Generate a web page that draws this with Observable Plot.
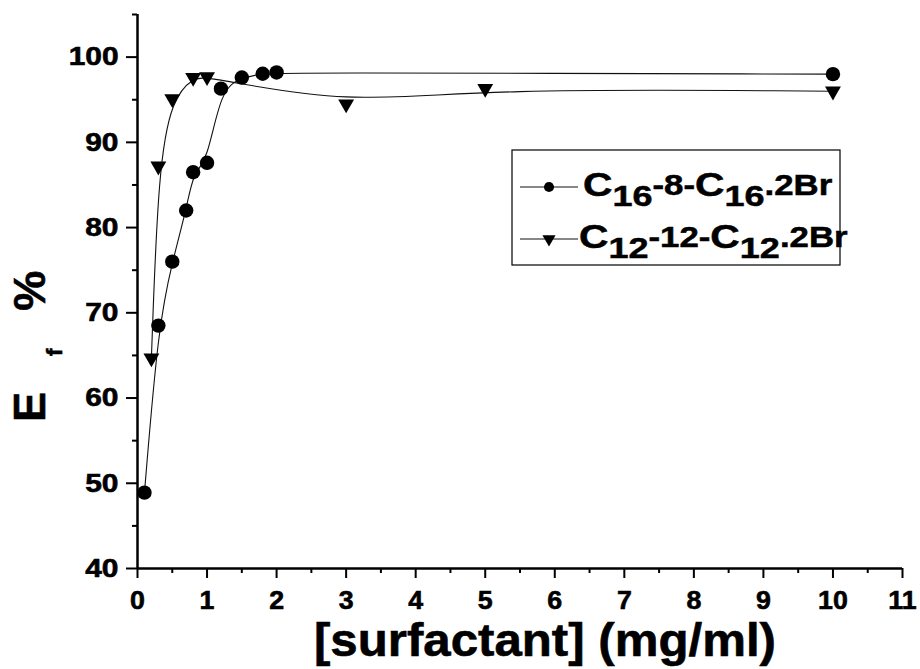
<!DOCTYPE html>
<html>
<head>
<meta charset="utf-8">
<script src="https://cdn.jsdelivr.net/npm/d3@7"></script>
<script src="https://cdn.jsdelivr.net/npm/@observablehq/plot@0.6"></script>
<style>
  body { margin: 0; background: #fff; }
  #chart svg { display: block; }
</style>
</head>
<body>
<div id="chart"></div>
<script>
// ---- data ----
const seriesNames = ["C16-8-C16.2Br", "C12-12-C12.2Br"];
const c16X = [0.1, 0.3, 0.5, 0.7, 0.8, 1.0, 1.2, 1.5, 1.8, 2.0, 10];
const c16Y = [48.9, 68.5, 76.0, 82.0, 86.5, 87.6, 96.3, 97.6, 98.05, 98.2, 98.0];
const c12X = [0.2, 0.3, 0.5, 0.8, 1.0, 3, 5, 10];
const c12Y = [64.7, 87.2, 95.1, 97.6, 97.7, 94.5, 96.3, 96.0];
const xTicks = [0, 1, 2, 3, 4, 5, 6, 7, 8, 9, 10, 11];
const xMinorTicks = [0.5, 1.5, 2.5, 3.5, 4.5, 5.5, 6.5, 7.5, 8.5, 9.5, 10.5];
const yTicks = [40, 50, 60, 70, 80, 90, 100];
const yMinorTicks = [45, 55, 65, 75, 85, 95, 105];
const xTitle = "[surfactant] (mg/ml)";

const c16 = c16X.map((x, i) => ({x, y: c16Y[i]}));
const c12 = c12X.map((x, i) => ({x, y: c12Y[i]}));

const FONT = "'Liberation Sans', Arial, Helvetica, sans-serif";

const chart = Plot.plot({
  width: 920,
  height: 669,
  marginLeft: 137,
  marginRight: 18,
  marginTop: 14,
  marginBottom: 101,
  style: {fontFamily: FONT, fontSize: "26px", fontWeight: "bold", color: "#000", background: "#fff"},
  x: {domain: [0, 11], label: null},
  y: {domain: [40, 105], label: null},
  marks: [
    Plot.axisX(xMinorTicks, {tickSize: 5, strokeWidth: 2, fill: "none", label: null}),
    Plot.axisX(xTicks, {tickSize: 10, tickPadding: 12, strokeWidth: 2, label: null, tickFormat: d => String(d)}),
    Plot.axisY(yMinorTicks, {tickSize: 5, strokeWidth: 2, fill: "none", label: null}),
    Plot.axisY(yTicks, {tickSize: 11, tickPadding: 8, strokeWidth: 2, label: null, tickFormat: d => String(d)}),
    Plot.ruleX([0], {stroke: "#000", strokeWidth: 2.5}),
    Plot.ruleY([40], {stroke: "#000", strokeWidth: 2.5}),
    Plot.line(c16, {x: "x", y: "y", curve: "basis", stroke: "#111", strokeWidth: 1.1}),
    Plot.line(c12, {x: "x", y: "y", curve: "basis", stroke: "#111", strokeWidth: 1.1}),
    Plot.dot(c16, {x: "x", y: "y", symbol: "circle", r: 7.2, fill: "#000", stroke: "none"}),
    Plot.dot(c12, {x: "x", y: "y", symbol: "triangle", rotate: 180, r: 5.9, fill: "#000", stroke: "none"})
  ]
});

document.getElementById("chart").appendChild(chart);

function stretch(el, s) {
  const t = el.getAttribute("transform");
  if (t && /translate/.test(t)) el.setAttribute("transform", t + ` scale(${s},1)`);
  else {
    const x = +el.getAttribute("x") || 0;
    el.setAttribute("transform", `translate(${x},0) scale(${s},1) translate(${-x},0)`);
  }
}
function heavy(el, size) {
  el.style.setProperty("font-family", FONT, "important");
  el.style.setProperty("font-size", size + "px", "important");
  el.style.setProperty("font-weight", "bold", "important");
  el.style.setProperty("fill", "#000", "important");
  el.style.setProperty("stroke", "#000", "important");
  el.style.setProperty("stroke-width", "0.6px", "important");
}
chart.querySelectorAll('[aria-label="x-axis tick label"] text').forEach(el => { heavy(el, 26); stretch(el, 1.03); });
chart.querySelectorAll('[aria-label="y-axis tick label"] text').forEach(el => { heavy(el, 26); stretch(el, 1.15); });

const svg = d3.select(chart);

// x axis title
const xt = svg.append("text")
  .attr("x", 545).attr("y", 656)
  .attr("text-anchor", "middle")
  .attr("font-family", FONT).attr("font-size", 46).attr("font-weight", "bold")
  .attr("fill", "#000").attr("stroke", "#000").attr("stroke-width", 0.6)
  .text(xTitle);
stretch(xt.node(), 1.07);

// y axis title: E_f %
const yt = svg.append("text")
  .attr("transform", "translate(45,422) rotate(-90)")
  .attr("text-anchor", "start")
  .attr("font-family", FONT).attr("font-size", 45).attr("font-weight", "bold")
  .attr("fill", "#000").attr("stroke", "#000").attr("stroke-width", 0.6);
yt.append("tspan").text("E");
yt.append("tspan").attr("font-size", 22).attr("dx", 36).attr("dy", 17).text("f");
yt.append("tspan").attr("dx", 38).attr("dy", -17).text("%");

// legend
const lg = svg.append("g").attr("font-family", FONT).attr("font-weight", "bold")
  .attr("fill", "#000").attr("text-anchor", "start");
lg.append("rect").attr("x", 512).attr("y", 150).attr("width", 328).attr("height", 115)
  .attr("fill", "#fff").attr("stroke", "#000").attr("stroke-width", 1.2);

const rows = [
  {y: 187, sym: "circle", parts: [["C", 0], ["16", 1], ["-8-", 2], ["C", 0], ["16", 1], [".2Br", 2]]},
  {y: 239, sym: "triangle", parts: [["C", 0], ["12", 1], ["-12-", 2], ["C", 0], ["12", 1], [".2Br", 2]]}
];
rows.forEach((row, i) => {
  lg.append("line").attr("x1", 520).attr("x2", 578).attr("y1", row.y).attr("y2", row.y)
    .attr("stroke", "#111").attr("stroke-width", 1.1);
  const sym = row.sym === "circle" ? d3.symbolCircle : d3.symbolTriangle;
  lg.append("path").attr("d", d3.symbol(sym, row.sym === "circle" ? 80 : 75)())
    .attr("transform", `translate(549,${row.y})` + (row.sym === "circle" ? "" : " rotate(180)"))
    .attr("fill", "#000");
  const t = lg.append("text").attr("x", i === 0 ? 583 : 579).attr("y", row.y + 9)
    .attr("text-anchor", "start").attr("stroke", "#000").attr("stroke-width", 0.5);
  let level = 0;
  row.parts.forEach(([s, kind]) => {
    const ts = t.append("tspan").text(s);
    if (kind === 0) { ts.attr("font-size", 34); ts.attr("dy", -level); level = 0; }
    else if (kind === 1) { ts.attr("font-size", 30); ts.attr("dy", 10 - level); level = 10; }
    else { ts.attr("font-size", 29); ts.attr("dy", -1 - level); level = -1; }
  });
  stretch(t.node(), 1.2);
});
</script>
</body>
</html>
